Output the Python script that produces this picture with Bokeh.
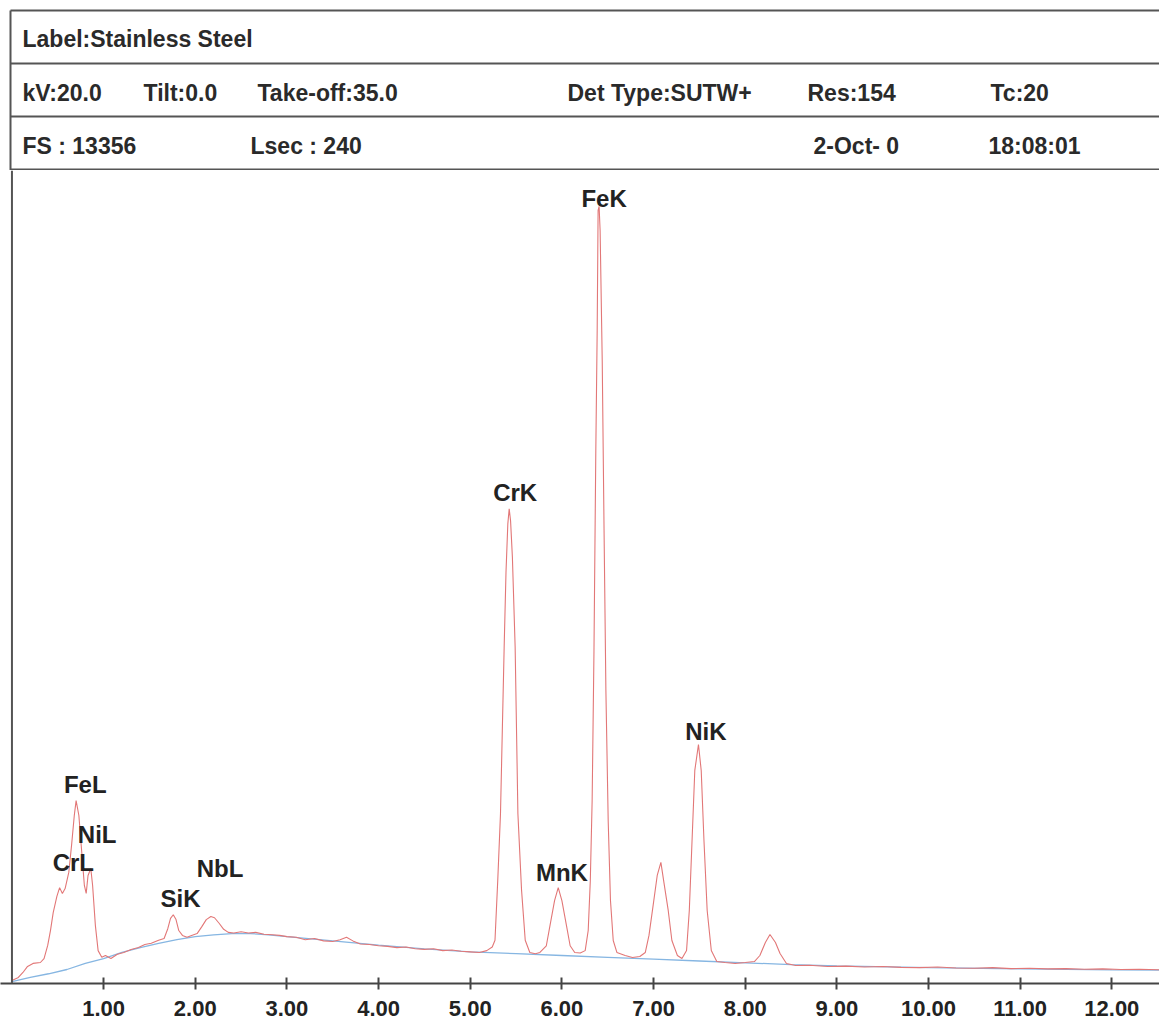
from bokeh.plotting import figure
from bokeh.layouts import column
from bokeh.models import Range1d, FixedTicker, PrintfTickFormatter, Span, ColumnDataSource
from bokeh.core.properties import value
from bokeh.embed import file_html
from bokeh.resources import INLINE

# ---------------- data ----------------
full_scale = 13356

# measured spectrum (energy keV, counts)
spec_energy = [0.00, 0.07, 0.12, 0.17, 0.23, 0.31, 0.35, 0.39, 0.42, 0.45, 0.49, 0.52, 0.55, 0.58,
               0.62, 0.65, 0.68, 0.70, 0.73, 0.76, 0.79, 0.81, 0.83, 0.86, 0.88, 0.91, 0.94, 0.98,
               1.02, 1.08, 1.15, 1.22, 1.30, 1.38, 1.45, 1.52, 1.60, 1.66, 1.70, 1.73, 1.76, 1.79,
               1.82, 1.86, 1.91, 1.96, 2.02, 2.07, 2.12, 2.17, 2.21, 2.26, 2.31, 2.36, 2.42, 2.50,
               2.58, 2.66, 2.75, 2.84, 2.92, 3.00, 3.10, 3.20, 3.30, 3.40, 3.50, 3.58, 3.65, 3.72,
               3.80, 3.90, 4.00, 4.10, 4.20, 4.30, 4.40, 4.50, 4.60, 4.70, 4.80, 4.90, 5.00, 5.10,
               5.18, 5.24, 5.27, 5.30, 5.33, 5.35, 5.37, 5.39, 5.41, 5.425, 5.44, 5.46, 5.49, 5.52,
               5.56, 5.60, 5.65, 5.71, 5.76, 5.83, 5.87, 5.92, 5.96, 6.00, 6.05, 6.09, 6.14, 6.20,
               6.254, 6.287, 6.31, 6.33, 6.35, 6.37, 6.385, 6.395, 6.406, 6.417, 6.44, 6.46, 6.48,
               6.505, 6.53, 6.56, 6.60, 6.69, 6.77, 6.85, 6.91, 6.95, 6.995, 7.04, 7.08, 7.11, 7.16,
               7.20, 7.26, 7.31, 7.36, 7.39, 7.42, 7.45, 7.49, 7.52, 7.55, 7.585, 7.63, 7.69, 7.78,
               7.89, 8.00, 8.10, 8.16, 8.22, 8.27, 8.33, 8.38, 8.45, 8.55, 8.70, 8.90, 9.10, 9.30,
               9.50, 9.70, 9.90, 10.10, 10.30, 10.50, 10.70, 10.90, 11.10, 11.30, 11.50, 11.70,
               11.90, 12.10, 12.30, 12.52]
spec_counts = [50, 99, 181, 280, 330, 345, 410, 625, 870, 1165, 1430, 1575, 1480, 1560,
               1825, 2265, 2760, 3005, 2760, 2185, 1610, 1480, 1775, 1890, 1610, 955, 540, 430,
               460, 410, 480, 510, 560, 590, 640, 660, 710, 740, 900, 1070, 1130, 1050,
               870, 790, 760, 790, 820, 930, 1050, 1100, 1080, 990, 890, 840, 830, 850,
               830, 840, 810, 800, 790, 770, 760, 720, 740, 700, 690, 720, 760, 700,
               650, 640, 620, 610, 590, 600, 570, 560, 570, 540, 550, 530, 520, 510,
               540, 600, 710, 1690, 2790, 4160, 5520, 6750, 7550, 7800, 7600, 7000, 5520, 2790,
               1530, 710, 510, 490, 510, 620, 950, 1360, 1575, 1360, 950, 620, 510, 500,
               540, 870, 1690, 3005, 5470, 8757, 10730, 12700, 12766, 12370, 10236, 7443, 4814,
               2678, 1364, 706, 510, 460, 427, 444, 510, 790, 1280, 1775, 1990, 1690, 1200,
               706, 460, 410, 542, 1200, 2350, 3500, 3927, 3500, 2350, 1200, 542, 361, 345,
               329, 345, 361, 460, 674, 805, 674, 493, 329, 296, 300, 280, 285, 270,
               280, 265, 260, 270, 255, 250, 260, 245, 250, 240, 245, 235,
               240, 230, 235, 225]

# fitted background (energy keV, counts)
bg_energy = [0.00, 0.20, 0.40, 0.60, 0.80, 1.00, 1.20, 1.40, 1.60, 1.80, 2.00, 2.20, 2.40, 2.60,
             2.80, 3.00, 3.50, 4.00, 4.50, 5.00, 5.50, 6.00, 6.50, 7.00, 7.50, 8.00, 8.50, 9.00,
             10.00, 11.00, 12.00, 12.52]
bg_counts = [30, 100, 160, 230, 330, 410, 510, 590, 660, 720, 770, 800, 820, 820,
             800, 770, 700, 630, 570, 520, 490, 460, 430, 400, 370, 340, 310, 290,
             260, 240, 225, 220]

# peak identification labels
peak_names = ["CrL", "FeL", "NiL", "SiK", "NbL", "CrK", "MnK", "FeK", "NiK"]
peak_label_energy = [0.67, 0.80, 0.93, 1.84, 2.27, 5.49, 6.00, 6.46, 7.57]
peak_label_counts = [1988, 3270, 2448, 1397, 1889, 8067, 1824, 12898, 4140]

energy_ticks = [1, 2, 3, 4, 5, 6, 7, 8, 9, 10, 11, 12]

# header contents
header_rows = [
    [("Label:Stainless Steel", 22)],
    [("kV:20.0", 22), ("Tilt:0.0", 143), ("Take-off:35.0", 257), ("Det Type:SUTW+", 567),
     ("Res:154", 807), ("Tc:20", 990)],
    [("FS : 13356", 22), ("Lsec : 240", 250), ("2-Oct- 0", 813), ("18:08:01", 988)],
]

FONT = value("Liberation Sans")
W = 1159
HEADER_H = 170

# ---------------- header ----------------
hdr = figure(width=W, height=HEADER_H, x_range=Range1d(0, W), y_range=Range1d(HEADER_H, 0),
             output_backend="svg", toolbar_location=None, x_axis_location=None,
             y_axis_location=None, min_border=0, outline_line_color=None)
hdr.xgrid.visible = False
hdr.ygrid.visible = False
hdr.background_fill_color = "white"

line_ys = [10, 63, 116, 169]
hdr.segment(x0=[10] * 4, x1=[W] * 4, y0=line_ys, y1=line_ys, line_color="#555555", line_width=2)
hdr.segment(x0=[10], x1=[10], y0=[10], y1=[HEADER_H], line_color="#555555", line_width=2)

row_ys = [38, 92, 145]
hx, hy, ht = [], [], []
for ry, row in zip(row_ys, header_rows):
    for txt, xx in row:
        hx.append(xx)
        hy.append(ry)
        ht.append(txt)
hdr.text(x=hx, y=hy, text=ht, text_font=FONT, text_font_style="bold", text_font_size="23px",
         text_baseline="middle", text_align="left", text_color="#2a2a2a")

# ---------------- spectrum ----------------
p = figure(width=W, height=1025 - HEADER_H, x_range=Range1d(-0.125, 12.52),
           y_range=Range1d(0, full_scale), output_backend="svg", toolbar_location=None,
           y_axis_location=None, x_axis_location="below", min_border_left=0,
           min_border_right=0, min_border_top=0, min_border_bottom=42, outline_line_color=None)
p.xgrid.visible = False
p.ygrid.visible = False

p.line(bg_energy, bg_counts, line_color="#86b6e2", line_width=1.3)
p.line(spec_energy, spec_counts, line_color="#e27777", line_width=1.1)

src = ColumnDataSource(dict(x=peak_label_energy, y=peak_label_counts, t=peak_names))
p.text(x="x", y="y", text="t", source=src, text_font=FONT, text_font_style="bold",
       text_font_size="24px", text_align="center", text_baseline="middle", text_color="#222222")

p.add_layout(Span(location=0, dimension="height", line_color="#555555", line_width=2))

ax = p.xaxis[0]
ax.ticker = FixedTicker(ticks=energy_ticks, minor_ticks=[])
ax.formatter = PrintfTickFormatter(format="%.2f")
ax.axis_line_color = "#444444"
ax.axis_line_width = 2
ax.major_tick_line_color = "#444444"
ax.major_tick_line_width = 2
ax.major_tick_in = 6
ax.major_tick_out = 6
ax.minor_tick_line_color = None
ax.major_label_text_font = "Liberation Sans"
ax.major_label_text_font_style = "bold"
ax.major_label_text_font_size = "22px"
ax.major_label_text_color = "#222222"
ax.major_label_standoff = 11

layout = column(hdr, p, spacing=0)
open("out.html", "w").write(file_html(layout, INLINE))
